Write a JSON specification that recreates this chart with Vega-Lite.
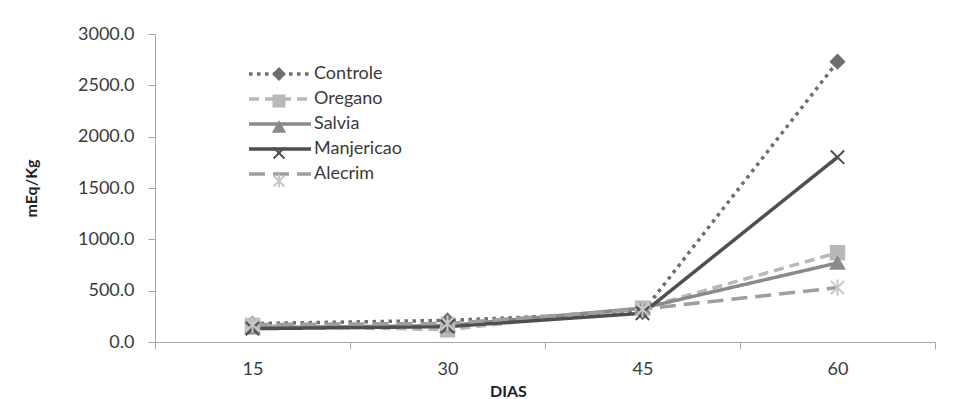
{
  "$schema": "https://vega.github.io/schema/vega-lite/v6.json",
  "width": 780,
  "height": 308,
  "autosize": {"type": "none"},
  "padding": {"left": 155, "top": 34, "right": 33, "bottom": 57},
  "background": "white",
  "config": {
    "view": {"stroke": null},
    "font": "Lato",
    "axis": {"labelFont": "Lato", "titleFont": "Lato", "labelColor": "#3a3a3a", "titleColor": "#222", "domainColor": "#a6a6a6", "tickColor": "#a6a6a6", "grid": false}
  },
  "data": {
    "values": [
      {"dias": 15, "serie": "Controle", "valor": 180},
      {"dias": 30, "serie": "Controle", "valor": 210},
      {"dias": 45, "serie": "Controle", "valor": 290},
      {"dias": 60, "serie": "Controle", "valor": 2730},
      {"dias": 15, "serie": "Oregano", "valor": 160},
      {"dias": 30, "serie": "Oregano", "valor": 120},
      {"dias": 45, "serie": "Oregano", "valor": 330},
      {"dias": 60, "serie": "Oregano", "valor": 870},
      {"dias": 15, "serie": "Salvia", "valor": 140},
      {"dias": 30, "serie": "Salvia", "valor": 160},
      {"dias": 45, "serie": "Salvia", "valor": 330},
      {"dias": 60, "serie": "Salvia", "valor": 770},
      {"dias": 15, "serie": "Manjericao", "valor": 130},
      {"dias": 30, "serie": "Manjericao", "valor": 150},
      {"dias": 45, "serie": "Manjericao", "valor": 280},
      {"dias": 60, "serie": "Manjericao", "valor": 1800},
      {"dias": 15, "serie": "Alecrim", "valor": 170},
      {"dias": 30, "serie": "Alecrim", "valor": 180},
      {"dias": 45, "serie": "Alecrim", "valor": 320},
      {"dias": 60, "serie": "Alecrim", "valor": 530}
    ]
  },
  "resolve": {"axis": {"x": "independent"}},
  "layer": [
    {
      "mark": {"type": "line", "strokeWidth": 3.5},
      "encoding": {
        "x": {
          "field": "dias", "type": "quantitative",
          "scale": {"domain": [7.5, 67.5], "nice": false, "zero": false},
          "axis": {"orient": "bottom", "values": [7.5, 22.5, 37.5, 52.5, 67.5], "labels": false, "tickSize": 7, "title": null}
        },
        "y": {
          "field": "valor", "type": "quantitative",
          "scale": {"domain": [0, 3000], "nice": false},
          "axis": {"values": [0, 500, 1000, 1500, 2000, 2500, 3000], "format": ".1f", "labelFontSize": 18, "labelPadding": 14, "tickSize": 7, "title": "mEq/Kg", "titleFontSize": 16, "titleFontWeight": "bold", "titleAngle": -90, "titleX": -124, "titleY": 154, "titleAlign": "center", "titleBaseline": "middle"}
        },
        "color": {
          "field": "serie", "type": "nominal",
          "scale": {"domain": ["Controle", "Oregano", "Salvia", "Manjericao", "Alecrim"], "range": ["#6e6e6e", "#b8b8b8", "#8a8a8a", "#4f4f4f", "#9e9e9e"]},
          "legend": {"title": null, "orient": "none", "legendX": 116, "legendY": 31, "symbolType": "M-6.2,0L6.2,0", "symbolSize": 100, "symbolStrokeWidth": 3.5, "labelOffset": 25, "labelFont": "Lato", "labelFontSize": 18, "labelColor": "#3a3a3a", "rowPadding": 7}
        },
        "strokeDash": {
          "field": "serie", "type": "nominal",
          "scale": {"domain": ["Controle", "Oregano", "Salvia", "Manjericao", "Alecrim"], "range": [[3.5, 4.5], [10, 6], [1, 0], [1, 0], [16, 8]]}
        }
      }
    },
    {
      "mark": {"type": "point", "filled": true, "size": 180, "strokeWidth": 2, "opacity": 1},
      "encoding": {
        "x": {"field": "dias", "type": "quantitative", "axis": null},
        "y": {"field": "valor", "type": "quantitative"},
        "shape": {
          "field": "serie", "type": "nominal",
          "sort": ["Controle", "Oregano", "Salvia", "Manjericao", "Alecrim"],
          "scale": {"range": ["diamond", "square", "triangle-up", "M-1,-1L1,1M-1,1L1,-1", "M-1,-1L1,1M-1,1L1,-1M0,-1.2L0,1.2"]},
          "legend": {"title": null, "orient": "none", "legendX": 115, "legendY": 31, "symbolSize": 120, "symbolStrokeWidth": 2, "labelExpr": "''", "labelFontSize": 18, "rowPadding": 7,
            "symbolFillColor": {"expr": "datum.value === 'Controle' ? '#6e6e6e' : datum.value === 'Oregano' ? '#b8b8b8' : datum.value === 'Salvia' ? '#8a8a8a' : datum.value === 'Manjericao' ? '#4f4f4f' : '#9e9e9e'"},
            "symbolStrokeColor": {"expr": "datum.value === 'Controle' ? '#6e6e6e' : datum.value === 'Oregano' ? '#b8b8b8' : datum.value === 'Salvia' ? '#8a8a8a' : datum.value === 'Manjericao' ? '#4f4f4f' : '#c8c8c8'"}
          }
        },
        "fill": {
          "field": "serie", "type": "nominal",
          "sort": ["Controle", "Oregano", "Salvia", "Manjericao", "Alecrim"],
          "scale": {"range": ["#6e6e6e", "#b8b8b8", "#8a8a8a", "#4f4f4f", "#9e9e9e"]},
          "legend": null
        },
        "stroke": {
          "field": "serie", "type": "nominal",
          "sort": ["Controle", "Oregano", "Salvia", "Manjericao", "Alecrim"],
          "scale": {"range": ["#6e6e6e", "#b8b8b8", "#8a8a8a", "#4f4f4f", "#c8c8c8"]},
          "legend": null
        }
      }
    },
    {
      "mark": {"type": "point", "opacity": 0},
      "encoding": {
        "x": {
          "field": "dias", "type": "quantitative",
          "axis": {"orient": "bottom", "values": [15, 30, 45, 60], "format": "d", "ticks": false, "domain": false, "labelFontSize": 18, "labelPadding": 18, "title": "DIAS", "titleFontSize": 16, "titleFontWeight": "bold", "titleX": 353, "titleY": 54, "titleBaseline": "alphabetic", "titleAlign": "center"}
        },
        "y": {"field": "valor", "type": "quantitative"}
      }
    }
  ]
}
